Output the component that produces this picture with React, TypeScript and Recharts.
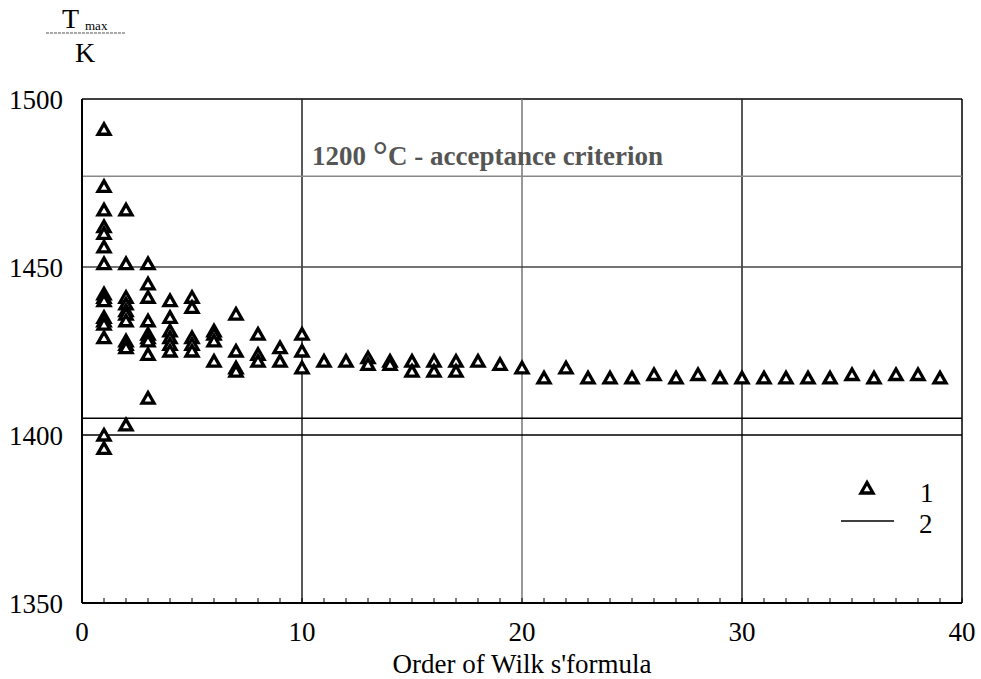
import React from 'react'
import { ScatterChart, Scatter, XAxis, YAxis, ReferenceLine } from 'recharts'

// order of Wilks' formula -> Tmax values
const orders = [
  1, 2, 3, 4, 5, 6, 7, 8, 9, 10, 11, 12, 13, 14, 15, 16, 17, 18, 19, 20,
  21, 22, 23, 24, 25, 26, 27, 28, 29, 30, 31, 32, 33, 34, 35, 36, 37, 38, 39,
]
const tmaxPerOrder = [
  [1491, 1474, 1467, 1462, 1460, 1456, 1451, 1442, 1441, 1440, 1435, 1434, 1433, 1429, 1400, 1396],
  [1467, 1451, 1441, 1439, 1437, 1436, 1434, 1428, 1427, 1426, 1403],
  [1451, 1445, 1441, 1434, 1430, 1429, 1428, 1424, 1411],
  [1440, 1435, 1431, 1429, 1427, 1425],
  [1441, 1438, 1429, 1427, 1425],
  [1431, 1430, 1428, 1422],
  [1436, 1425, 1420, 1419],
  [1430, 1424, 1422],
  [1426, 1422],
  [1430, 1425, 1420],
  [1422], [1422], [1423, 1421], [1422, 1421], [1422, 1419],
  [1422, 1419], [1422, 1419], [1422], [1421], [1420],
  [1417], [1420], [1417], [1417], [1417], [1418], [1417], [1418], [1417], [1417],
  [1417], [1417], [1417], [1417], [1418], [1417], [1418], [1418], [1417],
]

const xMinorTicks = Array.from({ length: 41 }, (_, i) => i)
const yTicks = [1350, 1400, 1450, 1500]
const acceptanceLimit = 1477
const line2Value = 1405

const points = orders.flatMap((order, i) => tmaxPerOrder[i].map((tmax) => ({ order, tmax })))

const serif = '"Liberation Serif", "Times New Roman", serif'

const Triangle = (props: any) => {
  const { cx, cy } = props
  if (cx == null || cy == null) return null
  return (
    <polygon
      points={`${cx - 6},${cy + 5} ${cx + 6},${cy + 5} ${cx},${cy - 5.5}`}
      fill="#fff"
      stroke="#000"
      strokeWidth={3.3}
    />
  )
}

// tick labels drawn by hand so the serif font sticks
const XTick = (props: any) => {
  const v = props.payload?.value
  if (v % 10 !== 0) return null
  return (
    <text x={props.x} y={props.y} dy="0.71em" textAnchor="middle" fontFamily={serif} fontSize={27} fill="#000">
      {v}
    </text>
  )
}

const YTick = (props: any) => (
  <text x={props.x} y={props.y} dy="0.355em" textAnchor="end" fontFamily={serif} fontSize={27} fill="#000">
    {props.payload?.value}
  </text>
)

const XTitle = (props: any) => {
  const vb = props.viewBox || { x: 0, y: 0, width: 0, height: 0 }
  return (
    <text x={vb.x + vb.width / 2} y={vb.y + vb.height - 6} textAnchor="middle" fontFamily={serif} fontSize={27} fill="#000">
      Order of Wilk s'formula
    </text>
  )
}

const AcceptanceLabel = (props: any) => {
  const vb = props.viewBox || { x: 0, y: 0 }
  return (
    <text x={vb.x + 230} y={vb.y - 11} fontFamily={serif} fontSize={27} fontWeight="bold" fill="#555">
      1200 <tspan fontSize={38} dy={3}>°</tspan>
      <tspan fontSize={27} dy={-3}>C - acceptance criterion</tspan>
    </text>
  )
}

export default function App() {
  return (
    <div
      style={{
        position: 'absolute',
        left: 0,
        top: 0,
        width: 981,
        height: 679,
        background: '#fff',
        fontFamily: serif,
      }}
    >
      <ScatterChart width={981} height={679} margin={{ top: 99, right: 19, bottom: 0, left: 0 }}>
        <XAxis
          type="number"
          dataKey="order"
          domain={[0, 40]}
          ticks={xMinorTicks}
          interval={0}
          tickSize={-5}
          tickMargin={24}
          height={76}
          axisLine={{ stroke: '#000', strokeWidth: 2 }}
          tickLine={{ stroke: '#000', strokeWidth: 1 }}
          tick={<XTick />}
          label={<XTitle />}
        />
        <YAxis
          type="number"
          dataKey="tmax"
          domain={[1350, 1500]}
          ticks={yTicks}
          width={82}
          tickSize={0}
          tickMargin={19}
          axisLine={{ stroke: '#000', strokeWidth: 2 }}
          tickLine={false}
          tick={<YTick />}
        />
        <ReferenceLine y={1500} stroke="#000" strokeWidth={1.5} />
        <ReferenceLine x={40} stroke="#000" strokeWidth={1.5} />
        <ReferenceLine x={10} stroke="#222" strokeWidth={1.5} />
        <ReferenceLine x={20} stroke="#777" strokeWidth={1.5} />
        <ReferenceLine x={30} stroke="#222" strokeWidth={1.5} />
        <ReferenceLine y={1450} stroke="#444" strokeWidth={1.5} />
        <ReferenceLine y={1400} stroke="#000" strokeWidth={1.5} />
        <ReferenceLine y={line2Value} stroke="#000" strokeWidth={1.5} />
        <ReferenceLine
          y={acceptanceLimit}
          stroke="#888"
          strokeWidth={1.5}
          label={(p: any) => <AcceptanceLabel {...p} />}
        />
        <Scatter data={points} shape={<Triangle />} isAnimationActive={false} />
      </ScatterChart>

      <svg width={981} height={679} style={{ position: 'absolute', left: 0, top: 0, pointerEvents: 'none' }}>
        {/* axis label: Tmax / K */}
        <text x={62} y={28} fontFamily={serif} fontSize={28} fill="#000">T</text>
        <text x={85} y={30} fontFamily={serif} fontSize={13} fill="#000">max</text>
        <line x1={46} x2={126} y1={33} y2={33} stroke="#555" strokeWidth={1} strokeDasharray="3 1" />
        <text x={75} y={62} fontFamily={serif} fontSize={28} fill="#000">K</text>

        {/* legend */}
        <polygon points="861,493 873,493 867,482.5" fill="#fff" stroke="#000" strokeWidth={3.3} />
        <text x={920} y={502} fontFamily={serif} fontSize={27} fill="#000">1</text>
        <line x1={841} x2={894} y1={521} y2={521} stroke="#000" strokeWidth={1.5} />
        <text x={919} y={533} fontFamily={serif} fontSize={27} fill="#000">2</text>
      </svg>
    </div>
  )
}
